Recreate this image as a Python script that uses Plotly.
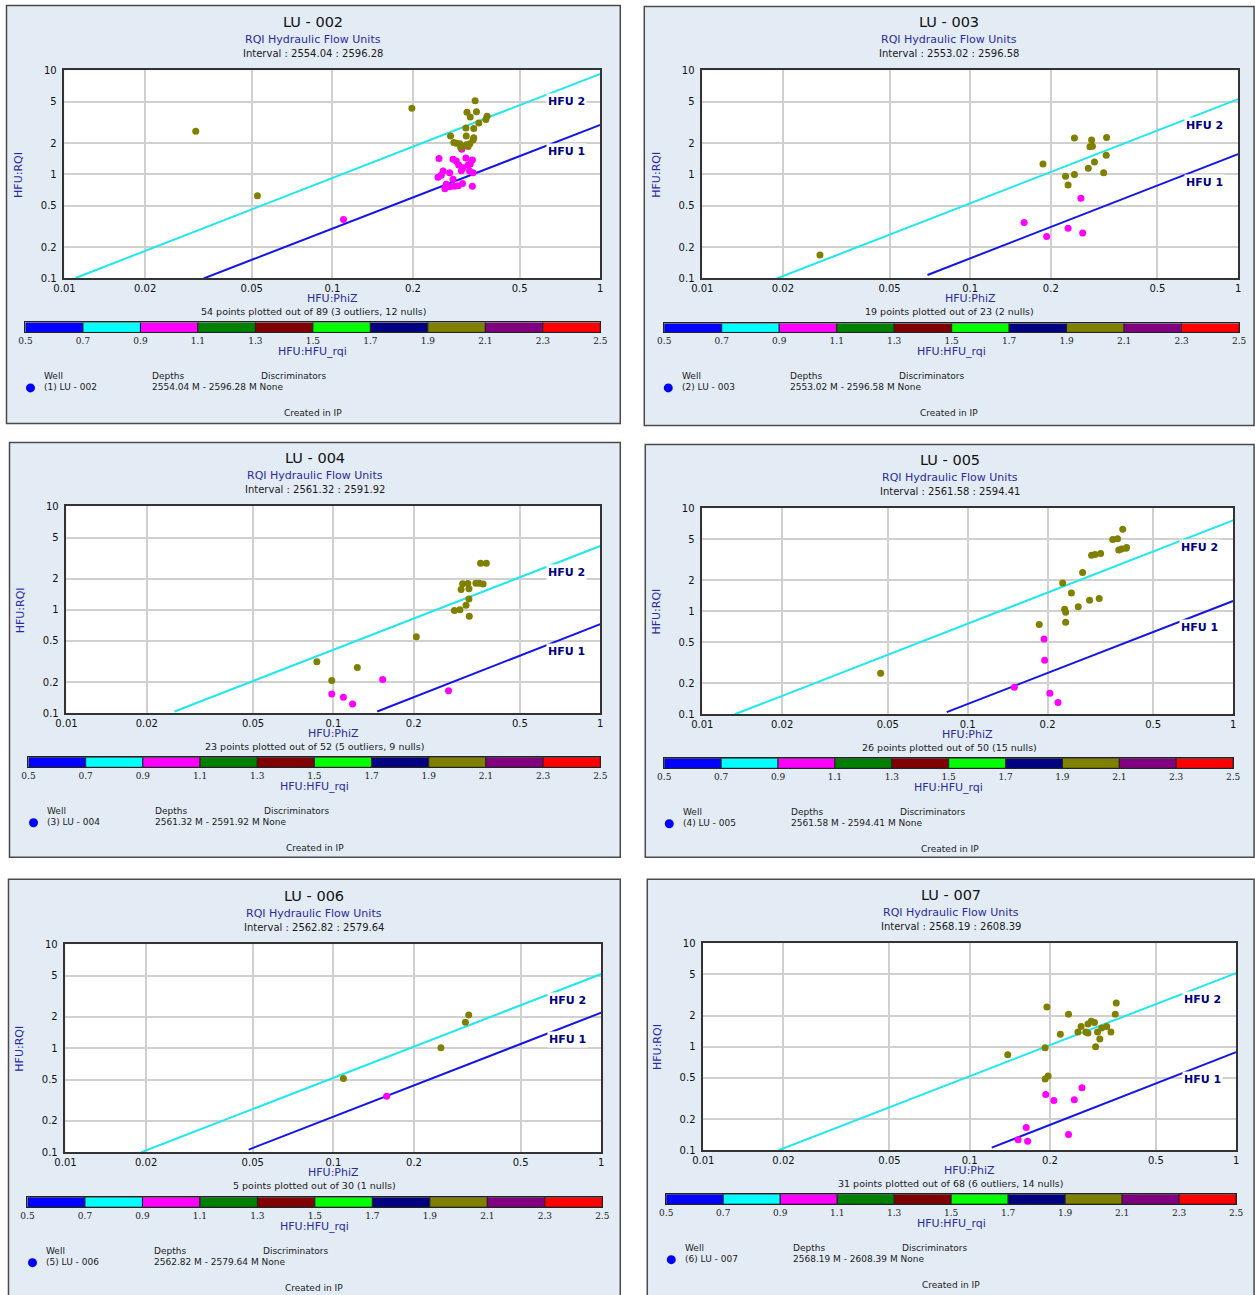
import math
import plotly.graph_objects as go

W, H = 1255, 1295
# observed placement of the rendered page relative to the figure (offset, scale)
AX, BX = 10.5, 0.986
AY, BY = 6.5, 0.991

# ---------------- text content ----------------
well_titles = ["LU - 002", "LU - 003", "LU - 004", "LU - 005", "LU - 006", "LU - 007"]
well_labels = ["(1) LU - 002", "(2) LU - 003", "(3) LU - 004", "(4) LU - 005", "(5) LU - 006", "(6) LU - 007"]
interval_texts = ["Interval : 2554.04 : 2596.28", "Interval : 2553.02 : 2596.58",
                  "Interval : 2561.32 : 2591.92", "Interval : 2561.58 : 2594.41",
                  "Interval : 2562.82 : 2579.64", "Interval : 2568.19 : 2608.39"]
depth_texts = ["2554.04 M - 2596.28 M None", "2553.02 M - 2596.58 M None",
               "2561.32 M - 2591.92 M None", "2561.58 M - 2594.41 M None",
               "2562.82 M - 2579.64 M None", "2568.19 M - 2608.39 M None"]
summary_texts = ["54 points plotted out of 89 (3 outliers, 12 nulls)",
                 "19 points plotted out of 23 (2 nulls)",
                 "23 points plotted out of 52 (5 outliers, 9 nulls)",
                 "26 points plotted out of 50 (15 nulls)",
                 "5 points plotted out of 30 (1 nulls)",
                 "31 points plotted out of 68 (6 outliers, 14 nulls)"]
chart_subtitle = "RQI Hydraulic Flow Units"
x_title = "HFU:PhiZ"
y_title = "HFU:RQI"
cb_title = "HFU:HFU_rqi"
footer_text = "Created in IP"
legend_headers = ["Well", "Depths", "Discriminators"]

x_tickvals = [0.01, 0.02, 0.05, 0.1, 0.2, 0.5, 1]
x_ticktext = ["0.01", "0.02", "0.05", "0.1", "0.2", "0.5", "1"]
y_tickvals = [0.1, 0.2, 0.5, 1, 2, 5, 10]
y_ticktext = ["0.1", "0.2", "0.5", "1", "2", "5", "10"]

# ---------------- HFU_rqi colour scale ----------------
cb_edges = [0.5, 0.7, 0.9, 1.1, 1.3, 1.5, 1.7, 1.9, 2.1, 2.3, 2.5]
cb_ticktext = ["0.5", "0.7", "0.9", "1.1", "1.3", "1.5", "1.7", "1.9", "2.1", "2.3", "2.5"]
cb_colors = ["#0000ff", "#00ffff", "#ff00ff", "#008000", "#800000",
             "#00ff00", "#000080", "#808000", "#800080", "#ff0000"]
hfu1_class = 1.0
hfu2_class = 2.0

# ---------------- points (PhiZ, RQI) ----------------
lu002_hfu2_phiz = [0.0309, 0.0525, 0.198, 0.341, 0.318, 0.345, 0.327, 0.352, 0.378, 0.374, 0.315, 0.337,
                   0.276, 0.316, 0.337, 0.284, 0.299, 0.301, 0.316, 0.326, 0.335, 0.321, 0.290]
lu002_hfu2_rqi = [2.61, 0.624, 4.34, 5.11, 3.97, 4.0, 3.57, 3.13, 3.63, 3.37, 2.80, 2.76,
                  2.34, 2.34, 2.25, 2.03, 1.97, 1.83, 1.93, 1.97, 2.15, 1.86, 2.0]
lu002_hfu1_phiz = [0.110, 0.250, 0.282, 0.290, 0.315, 0.333, 0.296, 0.321, 0.327, 0.307, 0.303, 0.325, 0.335,
                   0.259, 0.274, 0.248, 0.255, 0.282, 0.266, 0.274, 0.286, 0.295, 0.306, 0.333, 0.263, 0.304]
lu002_hfu1_rqi = [0.369, 1.42, 1.40, 1.35, 1.44, 1.38, 1.23, 1.23, 1.26, 1.16, 1.085, 1.08, 1.04,
                  1.08, 1.04, 0.94, 0.985, 0.90, 0.805, 0.76, 0.77, 0.78, 0.82, 0.77, 0.73, 1.75]

lu003_hfu2_phiz = [0.0275, 0.187, 0.245, 0.284, 0.323, 0.280, 0.286, 0.322, 0.291, 0.276, 0.245, 0.227, 0.232, 0.315]
lu003_hfu2_rqi = [0.168, 1.26, 2.24, 2.15, 2.27, 1.85, 1.87, 1.53, 1.32, 1.15, 1.0, 0.96, 0.79, 1.04]
lu003_hfu1_phiz = [0.259, 0.159, 0.193, 0.232, 0.263]
lu003_hfu1_rqi = [0.59, 0.345, 0.253, 0.303, 0.273]

lu004_hfu2_phiz = [0.0867, 0.0986, 0.1229, 0.2045, 0.284, 0.298, 0.323, 0.314, 0.322, 0.301, 0.322,
                   0.305, 0.319, 0.342, 0.352, 0.364, 0.356, 0.374]
lu004_hfu2_rqi = [0.315, 0.208, 0.277, 0.551, 0.985, 1.0, 0.868, 1.11, 1.27, 1.57, 1.60,
                  1.79, 1.80, 1.81, 1.81, 1.78, 2.82, 2.82]
lu004_hfu1_phiz = [0.0986, 0.109, 0.118, 0.153, 0.270]
lu004_hfu1_rqi = [0.154, 0.143, 0.123, 0.212, 0.165]

lu005_hfu2_phiz = [0.047, 0.186, 0.228, 0.246, 0.271, 0.232, 0.234, 0.234, 0.261, 0.288, 0.313,
                   0.293, 0.302, 0.317, 0.352, 0.367, 0.384, 0.371, 0.380, 0.395, 0.397]
lu005_hfu2_rqi = [0.251, 0.745, 1.88, 1.51, 2.38, 1.05, 0.977, 0.785, 1.11, 1.28, 1.33,
                  3.50, 3.56, 3.64, 4.99, 5.07, 6.26, 3.95, 4.04, 4.10, 4.17]
lu005_hfu1_phiz = [0.194, 0.195, 0.150, 0.204, 0.219]
lu005_hfu1_rqi = [0.538, 0.335, 0.183, 0.160, 0.130]

lu006_hfu2_phiz = [0.109, 0.252, 0.311, 0.320]
lu006_hfu2_rqi = [0.511, 1.01, 1.78, 2.09]
lu006_hfu1_phiz = [0.158]
lu006_hfu1_rqi = [0.346]

lu007_hfu2_phiz = [0.139, 0.195, 0.235, 0.192, 0.219, 0.192, 0.197, 0.255, 0.262, 0.273, 0.278,
                   0.286, 0.294, 0.278, 0.302, 0.308, 0.297, 0.313, 0.327, 0.339, 0.352, 0.355]
lu007_hfu2_rqi = [0.837, 2.42, 2.06, 0.978, 1.32, 0.487, 0.52, 1.39, 1.57, 1.39, 1.66,
                  1.76, 1.71, 1.36, 1.39, 1.19, 1.0, 1.52, 1.57, 1.39, 2.06, 2.65]
lu007_hfu1_phiz = [0.264, 0.193, 0.207, 0.247, 0.163, 0.152, 0.165, 0.235]
lu007_hfu1_rqi = [0.401, 0.346, 0.303, 0.307, 0.166, 0.126, 0.122, 0.142]

# ---------------- HFU boundary lines (PhiZ, RQI end points) ----------------
hfu2_line_phiz = [[0.0110, 1.0], [0.0190, 1.0], [0.0254, 1.0], [0.01326, 1.0], [0.0192, 1.0], [0.0192, 1.0]]
hfu2_line_rqi = [[0.101, 9.29], [0.100, 5.30], [0.104, 4.14], [0.100, 7.65], [0.100, 5.17], [0.100, 5.15]]
hfu1_line_phiz = [[0.0331, 1.0], [0.0693, 1.0], [0.146, 1.0], [0.0834, 1.0], [0.0483, 1.0], [0.121, 1.0]]
hfu1_line_rqi = [[0.100, 3.00], [0.108, 1.57], [0.104, 0.727], [0.105, 1.26], [0.106, 2.20], [0.106, 0.888]]

hfu_label_phiz = 0.75
hfu2_label_rqi = [5.07, 2.94, 2.29, 4.15, 2.85, 2.84]
hfu1_label_rqi = [1.66, 0.844, 0.394, 0.69, 1.22, 0.483]

points = [
    (lu002_hfu1_phiz, lu002_hfu1_rqi, lu002_hfu2_phiz, lu002_hfu2_rqi),
    (lu003_hfu1_phiz, lu003_hfu1_rqi, lu003_hfu2_phiz, lu003_hfu2_rqi),
    (lu004_hfu1_phiz, lu004_hfu1_rqi, lu004_hfu2_phiz, lu004_hfu2_rqi),
    (lu005_hfu1_phiz, lu005_hfu1_rqi, lu005_hfu2_phiz, lu005_hfu2_rqi),
    (lu006_hfu1_phiz, lu006_hfu1_rqi, lu006_hfu2_phiz, lu006_hfu2_rqi),
    (lu007_hfu1_phiz, lu007_hfu1_rqi, lu007_hfu2_phiz, lu007_hfu2_rqi),
]

# ---------------- layout geometry (target pixels) ----------------
boxes = [(6, 6, 620, 424), (644, 7, 1254, 426), (9, 443, 620, 858),
         (645, 445, 1254, 858), (8, 880, 620, 1300), (647, 880, 1254, 1300)]
plots = [(64, 71, 600, 279), (702, 71, 1238, 279), (66, 507, 600, 714),
         (702, 509, 1233, 715), (65, 945, 601, 1153), (703, 944, 1236, 1151)]
cbars = [(25, 323, 600, 333), (664, 324, 1239, 333), (28, 758, 600, 768),
         (664, 759, 1233, 769), (27, 1198, 602, 1208), (666, 1195, 1236, 1205)]

FONT = "DejaVu Sans"
PANEL_BG = "#e3ecf5"
NAVY_TXT = "#2a2aa0"
CYAN = "#1ee8ee"
BLUE = "#1414e6"


def fx(px):
    return ((px - AX) / BX) / W


def fy(py):
    return 1 - ((py - AY) / BY) / H


def class_color(v):
    for i in range(len(cb_colors)):
        if cb_edges[i] <= v < cb_edges[i + 1]:
            return cb_colors[i]
    return cb_colors[-1]


fig = go.Figure()
shapes = []
annotations = []
layout_axes = {}


def ann(text, px, py, size, color="#1a1a1a", xanchor="center", family=FONT, angle=0):
    annotations.append(dict(text=text, x=fx(px), y=fy(py), xref="paper", yref="paper",
                            xanchor=xanchor, yanchor="middle", showarrow=False, textangle=angle,
                            font=dict(family=family, size=size, color=color)))


for i in range(6):
    k = i + 1
    kc = i + 7
    xr = "x" if k == 1 else f"x{k}"
    yr = "y" if k == 1 else f"y{k}"
    xk = "xaxis" if k == 1 else f"xaxis{k}"
    yk = "yaxis" if k == 1 else f"yaxis{k}"
    bl, bt, br, bb = boxes[i]
    pl, pt, pr, pb = plots[i]
    cl, ct, cr, cbm = cbars[i]
    bcx = (bl + br) / 2

    # panel background and white plot area
    shapes.append(dict(type="rect", xref="paper", yref="paper", x0=fx(bl), x1=fx(br), y0=fy(bb), y1=fy(bt),
                       fillcolor=PANEL_BG, line=dict(color="#4a4a4a", width=1.5), layer="below"))
    shapes.append(dict(type="rect", xref="paper", yref="paper", x0=fx(pl), x1=fx(pr), y0=fy(pb), y1=fy(pt),
                       fillcolor="white", line=dict(width=0), layer="below"))

    h1x, h1y, h2x, h2y = points[i]

    fig.add_trace(go.Scatter(x=hfu2_line_phiz[i], y=hfu2_line_rqi[i], mode="lines",
                             line=dict(color=CYAN, width=2), xaxis=xr, yaxis=yr,
                             showlegend=False, hoverinfo="skip"))
    fig.add_trace(go.Scatter(x=hfu1_line_phiz[i], y=hfu1_line_rqi[i], mode="lines",
                             line=dict(color=BLUE, width=2), xaxis=xr, yaxis=yr,
                             showlegend=False, hoverinfo="skip"))
    fig.add_trace(go.Scatter(x=h1x, y=h1y, mode="markers",
                             marker=dict(color=class_color(hfu1_class), size=7, line=dict(width=0)),
                             xaxis=xr, yaxis=yr, showlegend=False))
    fig.add_trace(go.Scatter(x=h2x, y=h2y, mode="markers",
                             marker=dict(color=class_color(hfu2_class), size=7, line=dict(width=0)),
                             xaxis=xr, yaxis=yr, showlegend=False))

    layout_axes[xk] = dict(type="log", range=[-2, 0], domain=[fx(pl), fx(pr)], anchor=yr,
                           tickvals=x_tickvals, ticktext=x_ticktext, ticks="",
                           showgrid=True, gridcolor="#d0d0d0", gridwidth=1.5,
                           showline=True, mirror=True, linecolor="#333333", linewidth=1.5,
                           zeroline=False, tickfont=dict(family=FONT, size=10, color="#111111"))
    layout_axes[yk] = dict(type="log", range=[-1, 1], domain=[fy(pb), fy(pt)], anchor=xr,
                           tickvals=y_tickvals, ticktext=y_ticktext, ticks="",
                           showgrid=True, gridcolor="#d0d0d0", gridwidth=1.5,
                           showline=True, mirror=True, linecolor="#333333", linewidth=1.5,
                           zeroline=False, ticklabelstandoff=4,
                           tickfont=dict(family=FONT, size=10, color="#111111"))

    # colour scale bar drawn as bars on its own axis
    xcr = f"x{kc}"
    ycr = f"y{kc}"
    centers = [(a + b) / 2 for a, b in zip(cb_edges[:-1], cb_edges[1:])]
    widths = [b - a for a, b in zip(cb_edges[:-1], cb_edges[1:])]
    fig.add_trace(go.Bar(x=centers, y=[1] * len(centers), width=widths,
                         marker=dict(color=cb_colors, line=dict(color="#222222", width=1)),
                         xaxis=xcr, yaxis=ycr, showlegend=False, hoverinfo="skip"))
    layout_axes[f"xaxis{kc}"] = dict(range=[cb_edges[0], cb_edges[-1]], domain=[fx(cl), fx(cr)], anchor=ycr,
                                     tickvals=cb_edges, ticktext=cb_ticktext, ticks="",
                                     showgrid=False, zeroline=False, showline=True, mirror=True,
                                     linecolor="#222222", linewidth=1,
                                     tickfont=dict(family="DejaVu Serif", size=9, color="#222222"))
    layout_axes[f"yaxis{kc}"] = dict(range=[0, 1], domain=[fy(cbm), fy(ct)], anchor=xcr,
                                     showticklabels=False, showgrid=False, zeroline=False,
                                     showline=True, mirror=True, linecolor="#222222", linewidth=1, ticks="")

    # HFU labels
    for lab, ry in (("HFU 2", hfu2_label_rqi[i]), ("HFU 1", hfu1_label_rqi[i])):
        annotations.append(dict(text=f"<b>{lab}</b>", x=math.log10(hfu_label_phiz), y=math.log10(ry),
                                xref=xr, yref=yr, showarrow=False, xanchor="center", yanchor="middle",
                                bgcolor="white", borderpad=1,
                                font=dict(family=FONT, size=11, color="#000080")))

    # texts
    ann(well_titles[i], bcx, pt - 48, 14.5, color="#111111")
    ann(chart_subtitle, bcx, pt - 31, 11, color=NAVY_TXT)
    ann(interval_texts[i], bcx, pt - 17, 10, color="#1a1a1a")
    ann(x_title, (pl + pr) / 2, pb + 20, 11, color=NAVY_TXT)
    ann(y_title, pl - 46, (pt + pb) / 2, 11, color=NAVY_TXT, angle=-90)
    ann(summary_texts[i], bcx, pb + 33, 9.5, color="#1a1a1a")
    ann(cb_title, (cl + cr) / 2, cbm + 19, 11, color=NAVY_TXT)
    ann(legend_headers[0], bl + 36, cbm + 44, 9, xanchor="left")
    ann(legend_headers[1], bl + 144, cbm + 44, 9, xanchor="left")
    ann(legend_headers[2], bl + 253, cbm + 44, 9, xanchor="left")
    ann(well_labels[i], bl + 36, cbm + 55, 9, xanchor="left")
    ann(depth_texts[i], bl + 144, cbm + 55, 9, xanchor="left")
    ann(footer_text, bcx, cbm + 81, 9)
    dcx, dcy, rr = bl + 24, cbm + 55.5, 4.5
    shapes.append(dict(type="circle", xref="paper", yref="paper", x0=fx(dcx - rr), x1=fx(dcx + rr),
                       y0=fy(dcy + rr), y1=fy(dcy - rr), fillcolor="#0000ff", line=dict(width=0)))

fig.update_layout(width=W, height=H, margin=dict(l=0, r=0, t=0, b=0),
                  paper_bgcolor="white", plot_bgcolor="rgba(0,0,0,0)",
                  showlegend=False, shapes=shapes, annotations=annotations,
                  font=dict(family=FONT), **layout_axes)

fig.write_html("out.html")
